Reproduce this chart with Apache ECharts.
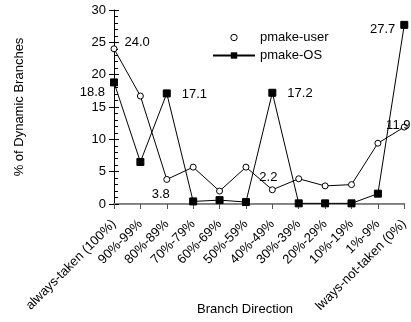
<!DOCTYPE html>
<html>
<head>
<meta charset="utf-8">
<script src="https://cdn.jsdelivr.net/npm/echarts@6/dist/echarts.min.js"></script>
<style>
  html, body { margin: 0; padding: 0; background: #fff; }
  #chart { width: 411px; height: 322px; }
</style>
</head>
<body>
<div id="chart"></div>
<script>
// Branch direction buckets and share of dynamic branches (%)
const categories = [
  'always-taken (100%)', '90%-99%', '80%-89%', '70%-79%', '60%-69%', '50%-59%',
  '40%-49%', '30%-39%', '20%-29%', '10%-19%', '1%-9%', 'lways-not-taken (0%)'
];
const pmakeUser = [24.0, 16.7, 3.8, 5.7, 2.0, 5.7, 2.2, 3.9, 2.8, 3.0, 9.4, 11.9];
const pmakeOS = [18.8, 6.5, 17.1, 0.4, 0.6, 0.3, 17.2, 0.1, 0.1, 0.1, 1.6, 27.7];
const yTicks = { min: 0, max: 30, interval: 5 };

// Which points carry a value label, and where it sits
const userLabels = {
  0: { position: 'right', offset: [2, -6] },
  2: { position: 'bottom', offset: [-6, 0] },
  6: { position: 'top', offset: [-4, 3] },
  11: { position: 'inside', offset: [-6, -2] }
};
const osLabels = {
  0: { position: 'left', offset: [0, 10] },
  2: { position: 'right', offset: [6, 1] },
  6: { position: 'right', offset: [6, 1] },
  11: { position: 'left', offset: [0, 5] }
};

const FONT = 'Liberation Sans, Arial, sans-serif';

function withLabels(values, labels) {
  return values.map((v, i) => {
    const l = labels[i];
    if (!l) return v;
    return {
      value: v,
      label: {
        show: true,
        position: l.position,
        offset: l.offset,
        formatter: (p) => p.value.toFixed(1),
        color: '#000',
        fontSize: 13,
        fontFamily: FONT
      }
    };
  });
}

const chart = echarts.init(document.getElementById('chart'), null, { renderer: 'canvas' });

chart.setOption({
  animation: false,
  backgroundColor: '#fff',
  grid: { left: 114, right: 3, top: 10, bottom: 118, containLabel: false },
  legend: {
    orient: 'vertical',
    left: 207, top: 26,
    itemWidth: 42, itemHeight: 8, itemGap: 5,
    data: [
      // marker only, no line, for the user series
      { name: 'pmake-user', lineStyle: { opacity: 0 },
        itemStyle: { color: '#fff', borderColor: '#000', borderWidth: 1 } },
      { name: 'pmake-OS' }
    ],
    textStyle: { fontSize: 13, fontFamily: FONT, color: '#000' },
    selectedMode: false
  },
  xAxis: [
    {
      type: 'category',
      data: categories,
      boundaryGap: false,
      axisLine: { lineStyle: { color: '#7f7f7f', width: 2 } },
      axisTick: { show: true, length: 5, lineStyle: { color: '#555', width: 1 } },
      axisLabel: {
        rotate: 45, interval: 0, margin: 18,
        fontSize: 13, fontFamily: FONT, color: '#000'
      },
      splitLine: { show: false }
    },
    {
      type: 'category',
      data: categories,
      position: 'top',
      boundaryGap: false,
      axisLine: { lineStyle: { color: '#8c8c8c', width: 1 } },
      axisTick: { show: false },
      axisLabel: { show: false },
      splitLine: { show: false }
    }
  ],
  yAxis: [
    {
      type: 'value',
      min: yTicks.min, max: yTicks.max, interval: yTicks.interval,
      name: '% of Dynamic Branches',
      nameLocation: 'middle',
      nameGap: 88,
      nameTextStyle: { fontSize: 13, fontFamily: FONT, color: '#000' },
      axisLine: { show: true, lineStyle: { color: '#000', width: 1 } },
      axisTick: { show: true, length: 5, lineStyle: { color: '#000' } },
      axisLabel: { fontSize: 13, fontFamily: FONT, color: '#000', margin: 8 },
      splitLine: { show: false }
    },
    {
      type: 'value',
      position: 'left',
      min: yTicks.min, max: yTicks.max, interval: yTicks.interval,
      axisLine: { show: false },
      axisTick: { show: true, inside: true, length: 5, lineStyle: { color: '#000' } },
      minorTick: { show: true, splitNumber: 5, length: 4, lineStyle: { color: '#000' } },
      axisLabel: { show: false },
      splitLine: { show: false }
    }
  ],
  graphic: [
    {
      type: 'text',
      left: 197, top: 303,
      style: { text: 'Branch Direction', fontSize: 13, fontFamily: FONT, fill: '#000' }
    }
  ],
  series: [
    {
      name: 'pmake-user',
      type: 'line',
      data: withLabels(pmakeUser, userLabels),
      symbol: 'circle',
      symbolSize: 6,
      itemStyle: { color: '#fff', borderColor: '#000', borderWidth: 1 },
      lineStyle: { color: '#000', width: 1 },
      z: 3
    },
    {
      name: 'pmake-OS',
      type: 'line',
      data: withLabels(pmakeOS, osLabels),
      symbol: 'rect',
      symbolSize: 7,
      itemStyle: { color: '#000', borderColor: '#000' },
      lineStyle: { color: '#000', width: 1 },
      z: 2
    }
  ]
});
</script>
</body>
</html>
